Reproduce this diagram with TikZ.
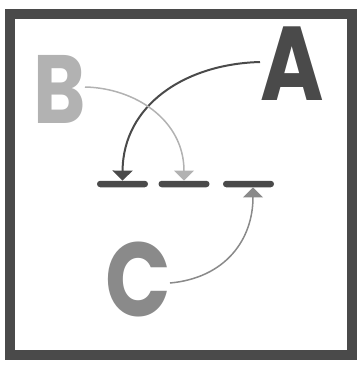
\documentclass[tikz,border=0pt]{standalone}
\usepackage{fontspec}
\newfontfamily\popfont{Poppins}[UprightFont=* Bold]
\usetikzlibrary{arrows.meta}
\definecolor{cA}{HTML}{4A4A4A}
\definecolor{cB}{HTML}{B2B2B2}
\definecolor{cC}{HTML}{8A8A8A}
\newcommand{\narrow}[1]{\scalebox{0.82}[1]{#1}}
\tikzset{
  letter/.style={font=\popfont\fontsize{105}{105}\selectfont, inner sep=0pt, anchor=base},
  bar/.style={fill=cA, rounded corners=3.2pt, minimum width=51pt, minimum height=6.5pt, inner sep=0pt},
  link/.style={-{Triangle[width=20pt,length=10pt]}, line width=1.5pt},
}
\begin{document}
\begin{tikzpicture}[x=1pt,y=-1pt]
\useasboundingbox (0,0) rectangle (360,365);
\draw[cA, line width=10pt] (10,14) rectangle (352,355);
\node[letter, text=cA] (A) at (292.5,100) {\narrow{A}};
\node[letter, text=cB, font=\popfont\fontsize{97}{97}\selectfont] (B) at (60,123) {\narrow{B}};
\node[letter, text=cC] (C) at (138,316) {\narrow{C}};
\node[bar] (b1) at (122.5,184) {};
\node[bar] (b2) at (184,184) {};
\node[bar] (b3) at (248.5,184) {};
\coordinate (aS) at (260,62);
\coordinate (bS) at (85,87);
\coordinate (cS) at (170,283);
\draw[link, cA, line width=2pt] (aS) .. controls (185,64) and (123,105) .. (b1.north);
\draw[link, cB] (bS) .. controls (135,88) and (184,120) .. (b2.north);
\draw[link, cC] (cS) .. controls (225,278) and (253,240) .. ([xshift=4.5pt]b3.south);
\end{tikzpicture}
\end{document}
